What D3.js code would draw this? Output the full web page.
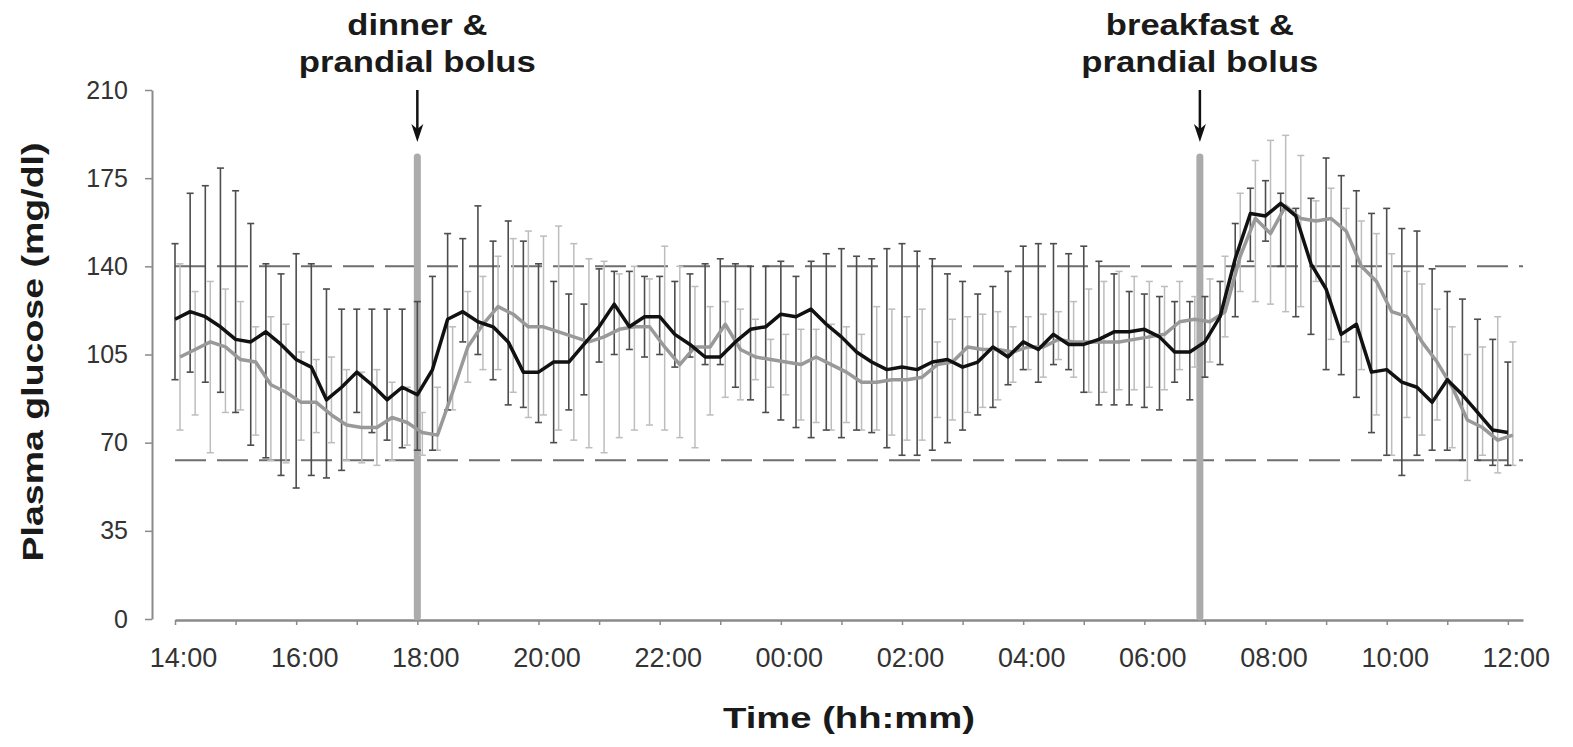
<!DOCTYPE html>
<html>
<head>
<meta charset="utf-8">
<script src="https://cdn.jsdelivr.net/npm/d3@7"></script>
<style>
	body { margin: 0; background: #fff; }
	svg { display: block; font-family: 'Liberation Sans', Arial, Helvetica, sans-serif; }
</style>
</head>
<body>
<svg id="chart" width="1573" height="747"></svg>
<script>
// sampling times, 15 min apart, 14:00 -> 12:00 next day
var times = ['14:00','14:15','14:30','14:45','15:00','15:15','15:30','15:45','16:00','16:15','16:30','16:45',
	'17:00','17:15','17:30','17:45','18:00','18:15','18:30','18:45','19:00','19:15','19:30','19:45',
	'20:00','20:15','20:30','20:45','21:00','21:15','21:30','21:45','22:00','22:15','22:30','22:45',
	'23:00','23:15','23:30','23:45','00:00','00:15','00:30','00:45','01:00','01:15','01:30','01:45',
	'02:00','02:15','02:30','02:45','03:00','03:15','03:30','03:45','04:00','04:15','04:30','04:45',
	'05:00','05:15','05:30','05:45','06:00','06:15','06:30','06:45','07:00','07:15','07:30','07:45',
	'08:00','08:15','08:30','08:45','09:00','09:15','09:30','09:45','10:00','10:15','10:30','10:45',
	'11:00','11:15','11:30','11:45','12:00'];

// black series: mean, upper and lower whisker (mg/dl)
var blackMean = [119,122,120,116,111,110,114,109,103,100, 87,92,98,93,87,92,89,99,119,122,
	118,116,110,98,98,102,102,109,116,125, 116,120,120,113,109,104,104,110,115,116,
	121,120,123,117,112,106,102,99,100,99, 102,103,100,102,108,104,110,107,113,109,
	109,111,114,114,115,112,106,106,110,120, 143,161,160,165,160,141,131,113,117,98,
	99,94,92,86,95,89,82,75,74];
var blackHigh = [149,169,172,179,170,157,141,137,145,141, 131,123,123,123,123,123,126,136,153,151,
	164,150,158,150,141,134,129,125,139,138, 138,136,136,134,137,141,143,141,140,140,
	142,136,142,145,147,144,143,147,149,146, 143,137,134,129,132,138,148,149,149,145,
	148,142,137,130,129,128,126,126,128,134, 157,171,174,169,163,167,183,176,170,161,
	163,155,154,139,130,127,119,111,102];
var blackLow = [95,98,94,90,82,69,64,57,52,57, 56,59,82,74,71,68,67,67,83,110,
	105,95,85,84,78,70,83,89,102,105, 107,104,105,100,104,101,101,92,87,82,
	79,76,72,75,72,75,74,68,65,65, 67,70,75,81,84,93,99,94,101,99,
	90,85,85,85,84,83,94,87,96,101, 120,142,150,140,120,113,99,97,88,74,
	65,57,65,67,67,63,63,61,61];

// grey series
var greyMean = [104,107,110,108,103,102,93,90,86,86, 81,77,76,76,80,78,74,73,90,108,
	117,124,121,116,116,114,112,110,112,115, 116,116,108,101,108,108,117,107,104,103,
	102,101,104,101,98,94,94,95,95,96, 101,102,108,107,107,106,108,108,111,110,
	110,110,110,111,112,113,118,119,118,122, 144,159,153,164,159,158,159,154,140,134,
	122,120,110,102,92,79,76,71,73];
var greyHigh = [141,130,134,131,126,116,120,117,106,103, 104,99,98,99,94,92,82,92,116,130,
	136,144,151,154,152,156,149,143,142,137, 140,135,148,140,132,124,126,123,119,111,
	113,115,115,117,116,113,124,123,120,123, 110,119,120,121,122,116,120,121,122,126,
	131,134,138,136,134,132,134,128,135,144, 169,182,190,192,184,166,171,163,158,153,
	145,138,133,123,116,105,108,120,110];
var greyLow = [75,81,66,82,83,73,63,62,71,74, 70,63,62,61,63,69,65,67,83,94,
	99,99,90,80,81,75,71,68,66,72, 75,77,75,72,68,81,88,87,95,92,
	89,79,78,75,78,75,75,73,71,71, 80,79,82,84,87,94,99,96,103,96,
	90,90,91,91,92,91,99,100,102,112, 130,126,125,122,124,134,111,110,99,81,
	65,80,73,79,68,55,65,58,61];

var yTicks = [0, 35, 70, 105, 140, 175, 210];
var xTickLabels = ['14:00','16:00','18:00','20:00','22:00','00:00','02:00','04:00','06:00','08:00','10:00','12:00'];
var axisEnd = '12:15';
var targetRange = [63, 140];
var meals = [
	{ time: '18:00', label: ['dinner &', 'prandial bolus'] },
	{ time: '06:55', label: ['breakfast &', 'prandial bolus'] }
];

function hoursFromStart(t) {
	var p = t.split(':');
	var h = +p[0] + p[1] / 60 - 14;
	return h < 0 ? h + 24 : h;
}

function fmtHour(h) {
	var hh = (14 + h) % 24;
	return (hh < 10 ? '0' : '') + hh + ':00';
}

// stretch bold text to the width it has in the figure
function fitText(sel, width) {
	sel.attr('textLength', width).attr('lengthAdjust', 'spacingAndGlyphs');
}

var svg = d3.select('#chart');

var xScale = d3.scaleLinear()
	.domain([0, hoursFromStart(axisEnd)])
	.range([175, 1523]);

var yScale = d3.scaleLinear()
	.domain([0, 210])
	.range([619, 90]);

var axisColor = '#8a8a8a';

// axes
var xAxis = svg.append('g')
	.attr('transform', 'translate(0,620)')
	.call(d3.axisBottom(xScale)
		.tickValues(d3.range(0, 23))
		.tickSize(5)
		.tickSizeOuter(0)
		.tickPadding(23)
		.tickFormat(function(h) { var l = fmtHour(h); return xTickLabels.indexOf(l) >= 0 ? l : ''; }));
xAxis.select('.domain').attr('stroke', axisColor).attr('stroke-width', 2.5);
xAxis.selectAll('.tick line').attr('stroke', axisColor).attr('stroke-width', 1.5);
xAxis.selectAll('.tick text')
	.attr('dx', 8)
	.attr('fill', '#333')
	.style('font-size', '27px')
	.style('font-family', "'Liberation Sans', Arial, sans-serif");

var yAxis = svg.append('g')
	.attr('transform', 'translate(152,0)')
	.call(d3.axisLeft(yScale)
		.tickValues(yTicks)
		.tickSize(7)
		.tickSizeOuter(0)
		.tickPadding(17));
yAxis.select('.domain').attr('stroke', axisColor).attr('stroke-width', 2);
yAxis.selectAll('.tick line').attr('stroke', axisColor).attr('stroke-width', 1.5);
yAxis.selectAll('.tick text')
	.attr('fill', '#333')
	.style('font-size', '25px')
	.style('font-family', "'Liberation Sans', Arial, sans-serif");

// target range
svg.append('g').selectAll('line').data(targetRange).enter().append('line')
	.attr('x1', xScale(0))
	.attr('x2', xScale(hoursFromStart(axisEnd)))
	.attr('y1', function(d) { return yScale(d); })
	.attr('y2', function(d) { return yScale(d); })
	.attr('stroke', '#6e6e6e')
	.attr('stroke-width', 2)
	.attr('stroke-dasharray', '31,11');

// meal / bolus markers
var mealG = svg.append('g').selectAll('g').data(meals).enter().append('g');
mealG.append('line')
	.attr('x1', function(d) { return xScale(hoursFromStart(d.time)); })
	.attr('x2', function(d) { return xScale(hoursFromStart(d.time)); })
	.attr('y1', 157)
	.attr('y2', 617)
	.attr('stroke', '#ababab')
	.attr('stroke-width', 7)
	.attr('stroke-linecap', 'round');
mealG.append('line')
	.attr('x1', function(d) { return xScale(hoursFromStart(d.time)); })
	.attr('x2', function(d) { return xScale(hoursFromStart(d.time)); })
	.attr('y1', 90)
	.attr('y2', 130)
	.attr('stroke', '#111')
	.attr('stroke-width', 2.5);
mealG.append('path')
	.attr('d', function(d) {
		var x = xScale(hoursFromStart(d.time));
		return 'M' + (x - 6) + ',124 L' + x + ',142 L' + (x + 6) + ',124 L' + x + ',129 Z';
	})
	.attr('fill', '#111');

var labelWidths = { 'dinner &': 140, 'breakfast &': 188, 'prandial bolus': 237 };
mealG.each(function(d) {
	var x = xScale(hoursFromStart(d.time));
	d3.select(this).selectAll('text').data(d.label).enter().append('text')
		.attr('x', x)
		.attr('y', function(l, i) { return 35 + i * 37; })
		.attr('text-anchor', 'middle')
		.attr('font-weight', 'bold')
		.attr('font-size', 29)
		.attr('fill', '#1a1a1a')
		.text(function(l) { return l; })
		.each(function(l) { fitText(d3.select(this), labelWidths[l]); });
});

// series
function drawSeries(mean, high, low, dodge, barColor, barWidth, lineColor, lineWidth) {
	var g = svg.append('g');
	var xOf = function(i) { return xScale(hoursFromStart(times[i])) + dodge; };
	var bars = g.append('g').selectAll('g').data(mean).enter().append('g')
		.attr('stroke', barColor)
		.attr('stroke-width', barWidth);
	bars.append('line')
		.attr('x1', function(d, i) { return xOf(i); })
		.attr('x2', function(d, i) { return xOf(i); })
		.attr('y1', function(d, i) { return yScale(high[i]); })
		.attr('y2', function(d, i) { return yScale(low[i]); });
	bars.append('line')
		.attr('x1', function(d, i) { return xOf(i) - 3.5; })
		.attr('x2', function(d, i) { return xOf(i) + 3.5; })
		.attr('y1', function(d, i) { return yScale(high[i]); })
		.attr('y2', function(d, i) { return yScale(high[i]); });
	bars.append('line')
		.attr('x1', function(d, i) { return xOf(i) - 3.5; })
		.attr('x2', function(d, i) { return xOf(i) + 3.5; })
		.attr('y1', function(d, i) { return yScale(low[i]); })
		.attr('y2', function(d, i) { return yScale(low[i]); });
	return function() {
		svg.append('path')
			.datum(mean)
			.attr('fill', 'none')
			.attr('stroke', lineColor)
			.attr('stroke-width', lineWidth)
			.attr('stroke-linejoin', 'round')
			.attr('d', d3.line()
				.x(function(d, i) { return xOf(i); })
				.y(function(d) { return yScale(d); }));
	};
}

var greyLine = drawSeries(greyMean, greyHigh, greyLow, 5, '#bdbdbd', 1.5, '#999', 3.5);
var blackLine = drawSeries(blackMean, blackHigh, blackLow, 0, '#4d4d4d', 1.6, '#111', 3.5);
greyLine();
blackLine();

// axis titles
svg.append('text')
	.attr('x', 849)
	.attr('y', 728)
	.attr('text-anchor', 'middle')
	.attr('font-weight', 'bold')
	.attr('font-size', 29)
	.attr('fill', '#1a1a1a')
	.text('Time (hh:mm)')
	.call(fitText, 252);

svg.append('text')
	.attr('transform', 'translate(43,352) rotate(-90)')
	.attr('text-anchor', 'middle')
	.attr('font-weight', 'bold')
	.attr('font-size', 30)
	.attr('fill', '#1a1a1a')
	.text('Plasma glucose (mg/dl)')
	.call(fitText, 419);
</script>
</body>
</html>
